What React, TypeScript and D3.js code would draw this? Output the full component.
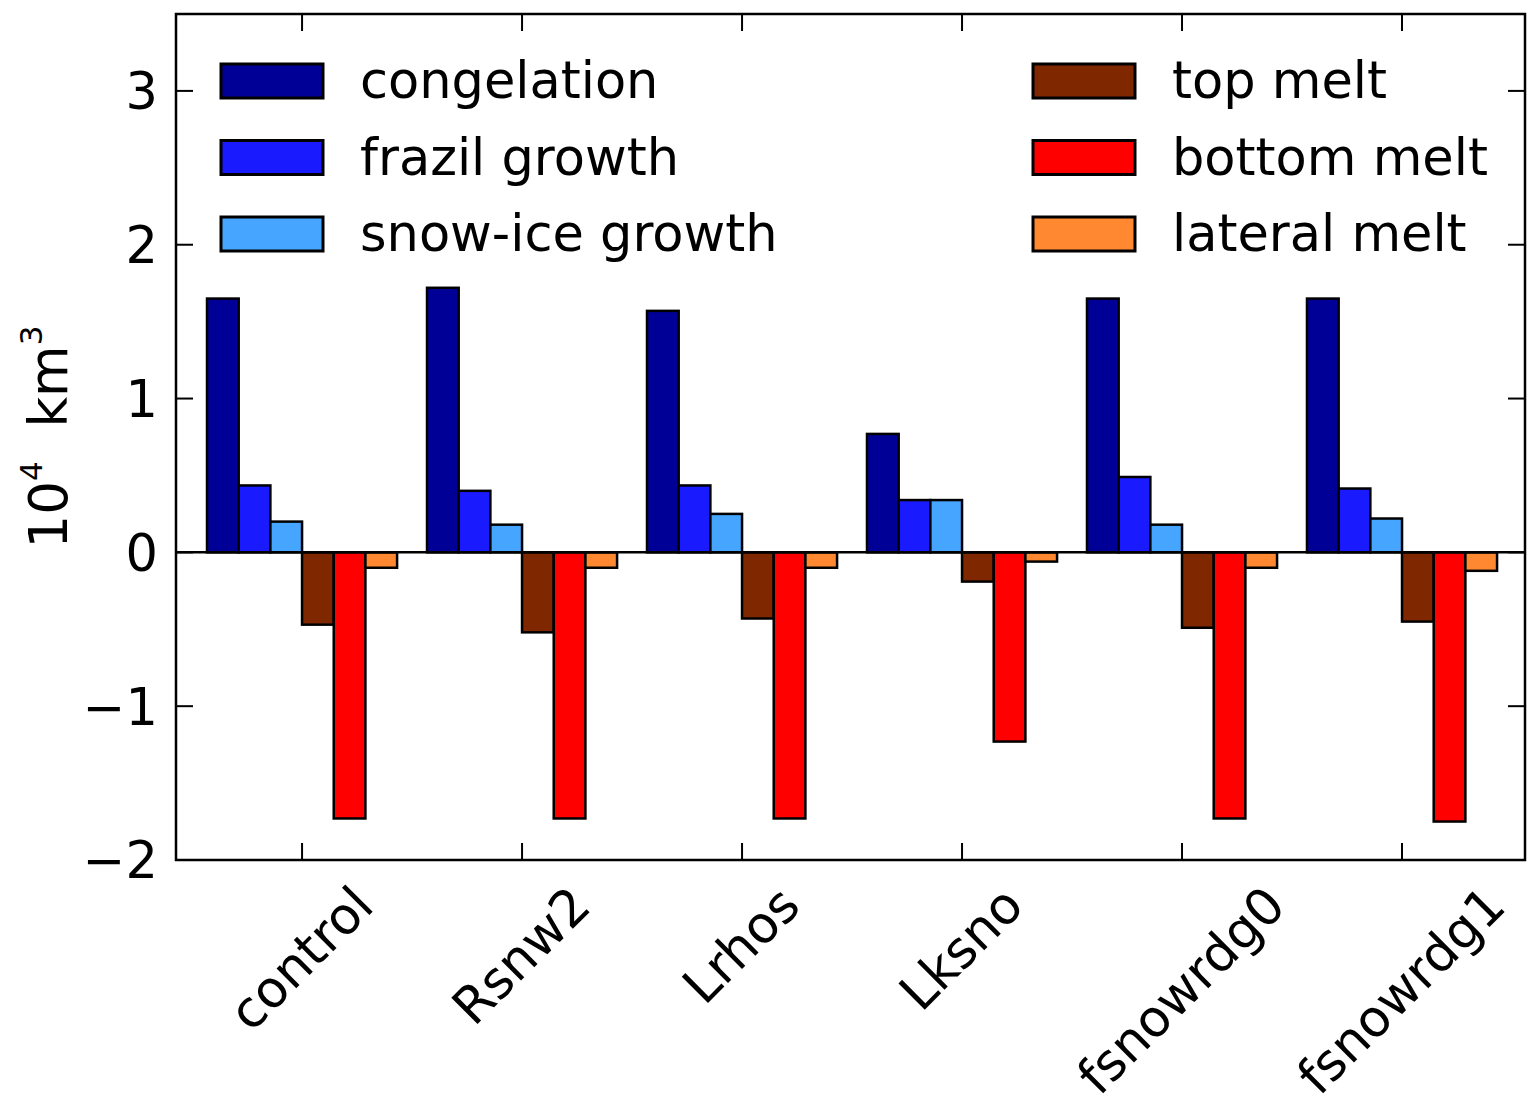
import * as d3 from 'd3';

const W = 1527;
const H = 1101;
const PLOT = { left: 176, right: 1525, top: 14, bottom: 860 };
const FONT = '"DejaVu Sans", sans-serif';

// experiments on the x axis
const experiments = ['control', 'Rsnw2', 'Lrhos', 'Lksno', 'fsnowrdg0', 'fsnowrdg1'];

// volume terms, 10^4 km^3
const congelation = [1.65, 1.72, 1.57, 0.77, 1.65, 1.65];
const frazilGrowth = [0.435, 0.4, 0.435, 0.34, 0.49, 0.415];
const snowIceGrowth = [0.2, 0.18, 0.25, 0.34, 0.18, 0.22];
const topMelt = [-0.47, -0.52, -0.43, -0.19, -0.49, -0.45];
const bottomMelt = [-1.73, -1.73, -1.73, -1.23, -1.73, -1.75];
const lateralMelt = [-0.1, -0.1, -0.1, -0.06, -0.1, -0.12];

const seriesNames = ['congelation', 'frazil growth', 'snow-ice growth', 'top melt', 'bottom melt', 'lateral melt'];
const seriesValues = [congelation, frazilGrowth, snowIceGrowth, topMelt, bottomMelt, lateralMelt];
const seriesColors = ['#000096', '#1a1aff', '#46a5ff', '#7f2800', '#ff0000', '#ff8830'];

const yTicks = [-2, -1, 0, 1, 2, 3];
const BAR_W = 0.144;

const x = d3.scaleLinear().domain([-0.141, 5.991]).range([PLOT.left, PLOT.right]);
const y = d3.scaleLinear().domain([-2, 3.5]).range([PLOT.bottom, PLOT.top]);

let measureCtx: CanvasRenderingContext2D | null = null;
function textWidth(s: string, size: number) {
  if (!measureCtx) measureCtx = document.createElement('canvas').getContext('2d');
  if (!measureCtx) return s.length * size * 0.6;
  measureCtx.font = `${size}px "DejaVu Sans"`;
  return measureCtx.measureText(s).width;
}

const fmt = (v: number) => (v < 0 ? '\u2212' + Math.abs(v) : String(v));

export default function App() {
  const tickX = experiments.map((_, i) => x(i + 3 * BAR_W));
  const fs = 51;

  return (
    <svg
      width={W}
      height={H}
      style={{ position: 'absolute', left: 0, top: 0, background: '#fff' }}
      fontFamily={FONT}
    >
      {/* bars */}
      {seriesValues.map((vals, s) =>
        vals.map((v, i) => {
          const x0 = x(i + s * BAR_W);
          const x1 = x(i + (s + 1) * BAR_W);
          return (
            <rect
              key={`${s}-${i}`}
              x={x0}
              y={y(Math.max(0, v))}
              width={x1 - x0}
              height={Math.abs(y(v) - y(0))}
              fill={seriesColors[s]}
              stroke="#000"
              strokeWidth={2.5}
            />
          );
        })
      )}

      {/* zero line */}
      <line x1={PLOT.left} x2={PLOT.right} y1={y(0)} y2={y(0)} stroke="#000" strokeWidth={2.5} />

      {/* ticks (inward on all sides) */}
      {yTicks.map((t) => (
        <g key={`yt${t}`}>
          <line x1={PLOT.left} x2={PLOT.left + 17} y1={y(t)} y2={y(t)} stroke="#000" strokeWidth={2} />
          <line x1={PLOT.right - 17} x2={PLOT.right} y1={y(t)} y2={y(t)} stroke="#000" strokeWidth={2} />
          <text x={PLOT.left - 18} y={y(t)} dy="0.36em" textAnchor="end" fontSize={fs} fill="#000">
            {fmt(t)}
          </text>
        </g>
      ))}
      {tickX.map((tx, i) => (
        <g key={`xt${i}`}>
          <line x1={tx} x2={tx} y1={PLOT.bottom} y2={PLOT.bottom - 17} stroke="#000" strokeWidth={2} />
          <line x1={tx} x2={tx} y1={PLOT.top} y2={PLOT.top + 17} stroke="#000" strokeWidth={2} />
        </g>
      ))}

      {/* rotated x labels, box centred under tick */}
      {experiments.map((name, i) => {
        const w = textWidth(name, fs);
        const h = fs * 1.16;
        const cy = PLOT.bottom + 16 + ((w + h) * Math.SQRT1_2) / 2;
        return (
          <text
            key={name}
            x={tickX[i]}
            y={cy}
            dy="0.32em"
            textAnchor="middle"
            fontSize={fs}
            fill="#000"
            transform={`rotate(-45 ${tickX[i]} ${cy})`}
          >
            {name}
          </text>
        );
      })}

      {/* frame */}
      <rect
        x={PLOT.left}
        y={PLOT.top}
        width={PLOT.right - PLOT.left}
        height={PLOT.bottom - PLOT.top}
        fill="none"
        stroke="#000"
        strokeWidth={2.5}
      />

      {/* y label */}
      <text
        transform={`translate(67, ${(PLOT.top + PLOT.bottom) / 2}) rotate(-90)`}
        textAnchor="middle"
        fontSize={53}
        fill="#000"
      >
        10
        <tspan fontSize={31} dy={-25}>4</tspan>
        <tspan dy={25}>{'\u00a0\u00a0km'}</tspan>
        <tspan fontSize={31} dy={-25}>3</tspan>
      </text>

      {/* legend */}
      {seriesNames.map((name, s) => {
        const col = s < 3 ? 0 : 1;
        const row = s % 3;
        const hx = col === 0 ? 221 : 1033;
        const cy = 81 + row * 76.5;
        return (
          <g key={name}>
            <rect x={hx} y={cy - 17} width={102} height={34} fill={seriesColors[s]} stroke="#000" strokeWidth={3} />
            <text x={hx + 139} y={cy + 17} fontSize={fs} fill="#000">
              {name}
            </text>
          </g>
        );
      })}
    </svg>
  );
}
